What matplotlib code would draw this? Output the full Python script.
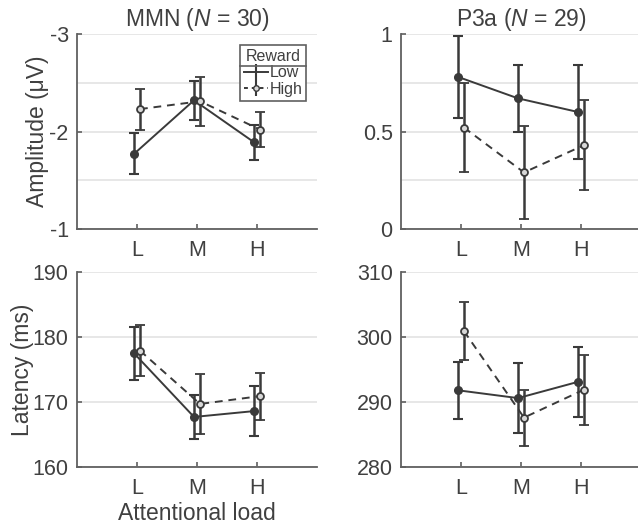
import matplotlib
matplotlib.use('Agg')
import matplotlib.pyplot as plt
from matplotlib.lines import Line2D
from matplotlib.ticker import MultipleLocator

plt.rcParams['font.family'] = ['Liberation Sans', 'DejaVu Sans']
plt.rcParams['mathtext.fontset'] = 'custom'
plt.rcParams['mathtext.rm'] = 'Liberation Sans'
plt.rcParams['mathtext.it'] = 'Liberation Sans:italic'
plt.rcParams['axes.unicode_minus'] = False

categories = ['L', 'M', 'H']

mmn_amp_low = [-1.77, -2.32, -1.89]
mmn_amp_low_err = [0.21, 0.20, 0.18]
mmn_amp_high = [-2.23, -2.31, -2.02]
mmn_amp_high_err = [0.21, 0.25, 0.18]

p3a_amp_low = [0.78, 0.67, 0.60]
p3a_amp_low_err = [0.21, 0.17, 0.24]
p3a_amp_high = [0.52, 0.29, 0.43]
p3a_amp_high_err = [0.23, 0.24, 0.23]

mmn_lat_low = [177.5, 167.7, 168.6]
mmn_lat_low_err = [4.1, 3.45, 3.9]
mmn_lat_high = [177.9, 169.7, 170.9]
mmn_lat_high_err = [3.95, 4.55, 3.6]

p3a_lat_low = [291.8, 290.6, 293.1]
p3a_lat_low_err = [4.4, 5.4, 5.4]
p3a_lat_high = [300.9, 287.6, 291.9]
p3a_lat_high_err = [4.5, 4.3, 5.4]

W, H = 638, 529
fig = plt.figure(figsize=(W / 100, H / 100), dpi=100)

TXT = '#404040'
SPINE = '#606060'
LINE = '#3a3a3a'
GRID = '#e3e3e3'
FS = 16.5
TFS = 15.5

def ax_at(l, t, r, b):
    return fig.add_axes([l / W, 1 - b / H, (r - l) / W, (b - t) / H])

ax1 = ax_at(77, 34, 317, 229)
ax2 = ax_at(401, 34, 641, 229)
ax3 = ax_at(77, 272, 317, 467)
ax4 = ax_at(401, 272, 641, 467)

x = [1, 2, 3]
off = 0.05

def draw(ax, low, lowe, high, highe):
    xl = [v - off for v in x]
    xh = [v + off for v in x]
    ax.errorbar(xl, low, yerr=lowe, color=LINE, lw=1.4, elinewidth=1.8, capsize=3.5,
                capthick=1.5, marker='o', ms=5.5, mfc=LINE, mec=LINE, zorder=3)
    eb = ax.errorbar(xh, high, yerr=highe, color=LINE, lw=1.4, elinewidth=1.8, capsize=3.5,
                     capthick=1.5, marker='o', ms=5, mfc='#d8d8d8', mec=LINE, mew=1.3,
                     zorder=3)
    eb[0].set_linestyle((0, (4, 3)))
    ax.set_xlim(0, 4)
    ax.set_xticks(x)
    ax.set_xticklabels(categories)
    for s in ['top', 'right']:
        ax.spines[s].set_visible(False)
    for s in ['left', 'bottom']:
        ax.spines[s].set_color(SPINE)
        ax.spines[s].set_linewidth(1.3)
    ax.tick_params(direction='in', length=3.5, width=1.2, color=SPINE, labelcolor=TXT,
                   labelsize=TFS)
    ax.tick_params(axis='y', pad=6)
    ax.tick_params(axis='x', pad=8)
    ax.tick_params(axis='y', which='minor', length=0)
    ax.grid(axis='y', which='both', color=GRID, lw=1.2, zorder=0)
    ax.set_axisbelow(True)

draw(ax1, mmn_amp_low, mmn_amp_low_err, mmn_amp_high, mmn_amp_high_err)
ax1.set_ylim(-1, -3)
ax1.set_yticks([-3, -2, -1])
ax1.yaxis.set_minor_locator(MultipleLocator(0.5))
ax1.set_title('MMN ($\\mathit{N}$ = 30)', fontsize=FS, color=TXT, pad=6)
ax1.set_ylabel('Amplitude (\u03bcV)', fontsize=FS, color=TXT, labelpad=0)

draw(ax2, p3a_amp_low, p3a_amp_low_err, p3a_amp_high, p3a_amp_high_err)
ax2.set_ylim(0, 1)
ax2.set_yticks([0, 0.5, 1])
ax2.set_yticklabels(['0', '0.5', '1'])
ax2.yaxis.set_minor_locator(MultipleLocator(0.25))
ax2.set_title('P3a ($\\mathit{N}$ = 29)', fontsize=FS, color=TXT, pad=6)

draw(ax3, mmn_lat_low, mmn_lat_low_err, mmn_lat_high, mmn_lat_high_err)
ax3.set_ylim(160, 190)
ax3.set_yticks([160, 170, 180, 190])
ax3.set_ylabel('Latency (ms)', fontsize=FS, color=TXT, labelpad=-1)
ax3.set_xlabel('Attentional load', fontsize=FS, color=TXT, labelpad=2)

draw(ax4, p3a_lat_low, p3a_lat_low_err, p3a_lat_high, p3a_lat_high_err)
ax4.set_ylim(280, 310)
ax4.set_yticks([280, 290, 300, 310])

# legend
h_low = ax1.errorbar([], [], yerr=[], color=LINE, lw=1.4, elinewidth=1.5, capsize=3,
                     marker='', label='Low')
h_high = ax1.errorbar([], [], yerr=[], color=LINE, lw=1.4, elinewidth=1.5, capsize=3,
                      marker='o', ms=4, mfc='#d8d8d8', mec=LINE, label='High')
h_high[0].set_linestyle((0, (2, 2)))
leg = ax1.legend(handles=[h_low, h_high], labels=['Low', 'High'], title='Reward',
                 loc='upper right', bbox_to_anchor=(0.955, 0.945), fontsize=11.5,
                 title_fontsize=11.5, frameon=True, fancybox=False, handlelength=1.5,
                 handletextpad=0.1, borderpad=0.25, labelspacing=0.1,
                 borderaxespad=0, framealpha=1)
leg.get_frame().set_edgecolor(SPINE)
leg.get_frame().set_linewidth(1.2)
leg.get_title().set_color(TXT)
for t in leg.get_texts():
    t.set_color(TXT)

fig.canvas.draw()
r = fig.canvas.get_renderer()
fb = leg.get_frame().get_window_extent(r)
tb = leg.get_title().get_window_extent(r)
ysep = tb.y0 - 2
inv = fig.transFigure.inverted()
(x0, y0) = inv.transform((fb.x0, ysep))
(x1, _) = inv.transform((fb.x1, ysep))
fig.add_artist(Line2D([x0, x1], [y0, y0], transform=fig.transFigure, color=SPINE, lw=1.2))

fig.savefig('out.png', dpi=100)
